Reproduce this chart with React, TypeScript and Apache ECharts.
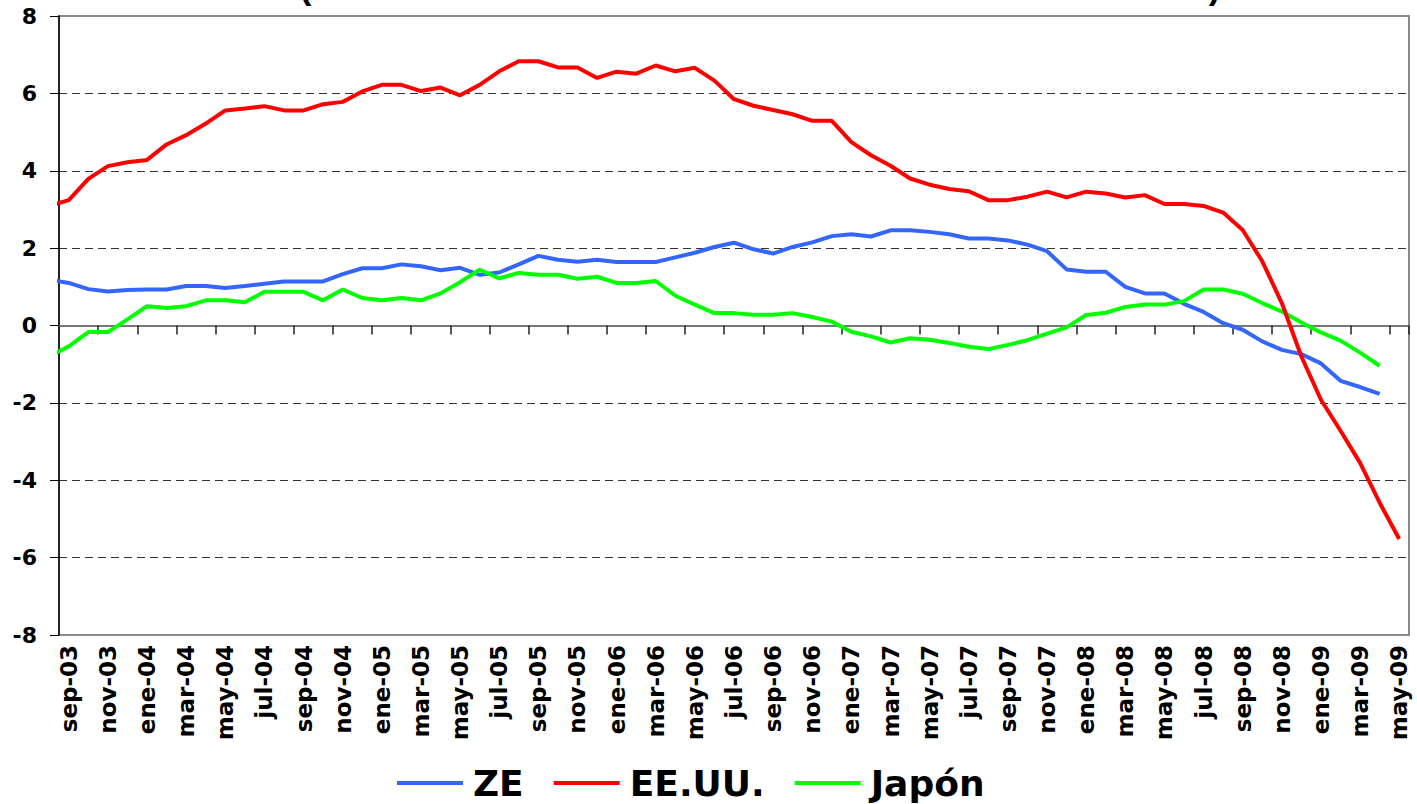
import React, { useEffect, useRef } from "react";
import * as echarts from "echarts";

// Months: the first entry (ago-03) only feeds the clipped lead-in segment at the left edge
const periods: string[] = [
  "ago-03", "sep-03", "oct-03", "nov-03", "dic-03",
  "ene-04", "feb-04", "mar-04", "abr-04", "may-04", "jun-04", "jul-04", "ago-04", "sep-04", "oct-04", "nov-04", "dic-04",
  "ene-05", "feb-05", "mar-05", "abr-05", "may-05", "jun-05", "jul-05", "ago-05", "sep-05", "oct-05", "nov-05", "dic-05",
  "ene-06", "feb-06", "mar-06", "abr-06", "may-06", "jun-06", "jul-06", "ago-06", "sep-06", "oct-06", "nov-06", "dic-06",
  "ene-07", "feb-07", "mar-07", "abr-07", "may-07", "jun-07", "jul-07", "ago-07", "sep-07", "oct-07", "nov-07", "dic-07",
  "ene-08", "feb-08", "mar-08", "abr-08", "may-08", "jun-08", "jul-08", "ago-08", "sep-08", "oct-08", "nov-08", "dic-08",
  "ene-09", "feb-09", "mar-09", "abr-09", "may-09",
];
const categories: string[] = periods.slice(1);

const seriesNames = ["ZE", "EE.UU.", "Japón"];

const zeValues: number[] = [
  1.18,
  1.10, 0.94, 0.88, 0.92, 0.93, 0.93, 1.02, 1.02, 0.97, 1.02,
  1.08, 1.14, 1.14, 1.14, 1.33, 1.48, 1.48, 1.58, 1.53, 1.43,
  1.49, 1.31, 1.37, 1.58, 1.80, 1.70, 1.65, 1.70, 1.64, 1.64,
  1.64, 1.76, 1.88, 2.03, 2.14, 1.97, 1.86, 2.03, 2.15, 2.31,
  2.36, 2.30, 2.46, 2.46, 2.42, 2.36, 2.25, 2.25, 2.20, 2.09,
  1.92, 1.45, 1.39, 1.39, 1.00, 0.83, 0.83, 0.56, 0.35, 0.06,
  -0.11, -0.41, -0.63, -0.74, -0.98, -1.43, -1.59, -1.77,
];

const eeuuValues: number[] = [
  3.09,
  3.24, 3.79, 4.12, 4.22, 4.28, 4.68, 4.92, 5.22, 5.56, 5.61,
  5.67, 5.56, 5.56, 5.72, 5.78, 6.05, 6.22, 6.22, 6.06, 6.15,
  5.95, 6.22, 6.57, 6.83, 6.83, 6.67, 6.67, 6.40, 6.56, 6.51,
  6.72, 6.57, 6.66, 6.33, 5.85, 5.68, 5.57, 5.46, 5.29, 5.29,
  4.74, 4.40, 4.13, 3.80, 3.64, 3.53, 3.47, 3.24, 3.24, 3.33,
  3.46, 3.31, 3.46, 3.41, 3.31, 3.37, 3.14, 3.14, 3.09, 2.92,
  2.47, 1.66, 0.58, -0.80, -1.92, -2.72, -3.55, -4.58, -5.52,
];

const japonValues: number[] = [
  -0.80,
  -0.54, -0.17, -0.17, 0.16, 0.50, 0.45, 0.50, 0.65, 0.65, 0.60,
  0.87, 0.87, 0.87, 0.65, 0.93, 0.71, 0.65, 0.71, 0.65, 0.83,
  1.12, 1.44, 1.22, 1.36, 1.31, 1.31, 1.21, 1.26, 1.10, 1.10,
  1.15, 0.77, 0.54, 0.32, 0.32, 0.28, 0.28, 0.32, 0.22, 0.10,
  -0.16, -0.28, -0.44, -0.33, -0.37, -0.45, -0.55, -0.61, -0.50, -0.38,
  -0.21, -0.05, 0.27, 0.33, 0.48, 0.54, 0.54, 0.63, 0.93, 0.93,
  0.82, 0.58, 0.36, 0.08, -0.18, -0.39, -0.70, -1.04,
];

const yTicks = { min: -8, max: 8, interval: 2 };
const titleText = "(Crecimiento interanual de la media móvil de tres meses)";

const colors = ["#3366FF", "#FF0000", "#00FF00"];

// position along the hidden value axis: periods[0] (ago-03) sits half a month left of the plot
const toPoints = (vals: number[]) => vals.map((v, i) => [i - 0.5, v]);

export default function App() {
  const ref = useRef<HTMLDivElement>(null);
  useEffect(() => {
    if (!ref.current) return;
    const chart = echarts.init(ref.current, null, { renderer: "svg" });
    const font = "Arial, 'Liberation Sans', Helvetica, sans-serif";
    const wide = "'DejaVu Sans', Verdana, sans-serif";
    const allSeries = [zeValues, eeuuValues, japonValues];
    chart.setOption({
      animation: false,
      backgroundColor: "#ffffff",
      textStyle: { fontFamily: font },
      graphic: [
        {
          type: "text",
          x: 760,
          y: -30,
          style: {
            text: titleText,
            font: `bold 34px ${font}`,
            fill: "#000",
            textAlign: "center",
            textVerticalAlign: "top",
          },
        },
      ],
      legend: {
        data: seriesNames,
        left: 392,
        top: 760,
        itemWidth: 66,
        itemHeight: 40,
        itemGap: 30,
        icon: "path://M0,18 L66,18 L66,22 L0,22 Z",
        textStyle: {
          fontSize: 36,
          fontWeight: "bold",
          color: "#000",
          fontFamily: wide,
          padding: [0, 0, 0, 5],
        },
      },
      grid: {
        left: 59,
        top: 16,
        width: 1350,
        height: 619,
        show: true,
        borderColor: "#8a8a8a",
        borderWidth: 2,
        backgroundColor: "transparent",
      },
      xAxis: [
        {
          type: "category",
          data: categories,
          position: "bottom",
          boundaryGap: true,
          axisLine: { show: false, onZero: false },
          axisTick: { show: false },
          axisLabel: {
            interval: 1,
            rotate: 90,
            fontSize: 23,
            fontWeight: "bold",
            color: "#000",
            margin: 10,
            fontFamily: wide,
          },
          splitLine: { show: false },
        },
        {
          type: "category",
          data: categories,
          position: "top",
          boundaryGap: true,
          axisLine: { show: true, onZero: true, lineStyle: { color: "#777", width: 2 } },
          axisTick: { show: true, inside: true, interval: 1, length: 9, lineStyle: { color: "#222", width: 1.5 } },
          axisLabel: { show: false },
          splitLine: { show: false },
        },
        {
          type: "value",
          min: 0,
          max: categories.length,
          show: false,
          splitLine: { show: false },
        },
      ],
      yAxis: {
        type: "value",
        min: yTicks.min,
        max: yTicks.max,
        interval: yTicks.interval,
        axisLine: { show: true, onZero: false, lineStyle: { color: "#000", width: 1.5 } },
        axisTick: { show: true, length: 9, lineStyle: { color: "#000", width: 1 } },
        axisLabel: {
          fontSize: 22,
          fontWeight: "bold",
          color: "#000",
          margin: 22,
          fontFamily: wide,
        },
        splitLine: {
          show: true,
          showMinLine: false,
          showMaxLine: false,
          lineStyle: { color: "#333", width: 1, type: [8, 5] },
        },
      },
      series: allSeries.map((vals, k) => ({
        name: seriesNames[k],
        type: "line",
        xAxisIndex: 2,
        data: toPoints(vals),
        symbol: "none",
        clip: true,
        color: colors[k],
        lineStyle: { color: colors[k], width: 4 },
        z: k === 1 ? 3 : 2,
      })),
    });
    return () => chart.dispose();
  }, []);
  return (
    <div
      ref={ref}
      style={{ position: "fixed", left: 0, top: 0, width: 1417, height: 804 }}
    />
  );
}
